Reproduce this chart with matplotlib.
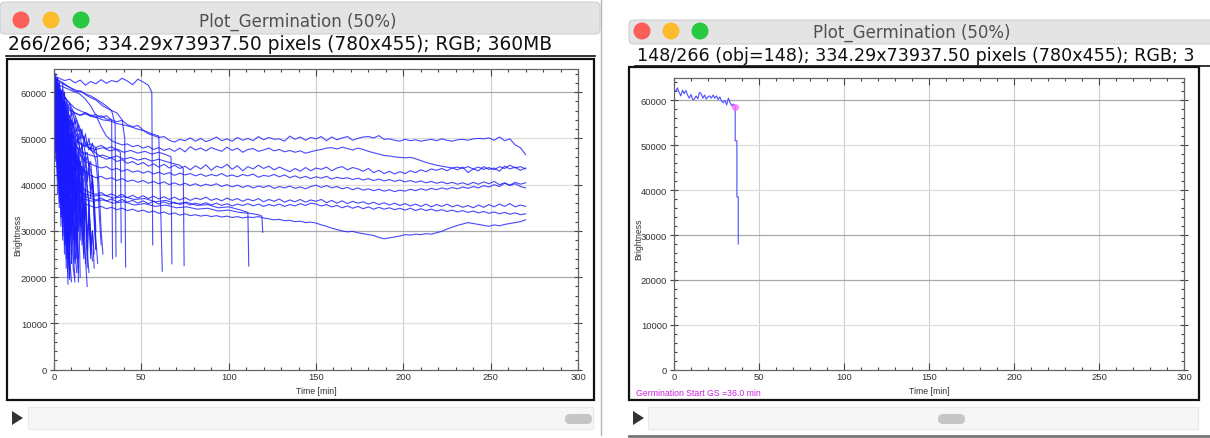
import matplotlib.pyplot as plt
from matplotlib.patches import Rectangle, FancyBboxPatch, Circle, Polygon
from matplotlib.ticker import MultipleLocator
import numpy as np

plt.rcParams['font.family'] = ['Liberation Sans', 'DejaVu Sans']

# ---------------- data (brightness in thousands) ----------------
# long traces, one sample every 3 min from 0 to 270 min
long_step = 3
trace_1 = [62.0, 60.5, 58.0, 56.5, 55.5, 55.0, 55.3, 54.8, 54.5, 54.9, 54.2, 54.0, 53.6, 53.9, 53.0, 52.5,
           52.8, 51.8, 51.0, 50.6, 50.2, 50.4, 49.6, 49.2, 49.8, 49.5, 50.1, 49.4, 50.0, 49.3, 49.7, 50.3,
           49.5, 49.9, 49.4, 50.2, 49.6, 50.0, 49.5, 50.4, 49.7, 50.2, 49.8, 49.9, 49.4, 50.5, 49.8, 50.3,
           49.6, 50.2, 49.9, 50.4, 49.5, 50.3, 49.7, 50.1, 50.4, 49.6, 50.0, 50.3, 50.4, 50.1, 50.6, 49.8,
           49.9, 49.6, 49.4, 49.8, 49.5, 49.7, 49.4, 49.6, 49.8, 49.5, 49.9, 49.6, 49.4, 49.7, 49.8, 49.6,
           49.9, 50.0, 49.9, 50.1, 49.6, 50.3, 49.5, 49.9, 48.6, 48.0, 46.5]
trace_2 = [63.0, 62.5, 61.8, 61.0, 60.2, 59.5, 58.5, 57.0, 55.0, 52.5, 50.5, 49.5, 49.0, 48.6, 48.8, 48.2,
           48.5, 47.9, 48.3, 47.6, 48.0, 47.4, 47.8, 47.2, 47.9, 47.1, 48.2, 47.5, 47.9, 47.3, 48.0, 47.6,
           47.2, 48.1, 47.4, 47.9, 47.0, 47.6, 47.8, 47.2, 47.5, 47.9, 47.3, 47.6, 47.1, 47.4, 47.0, 47.3,
           46.8, 47.1, 47.4, 47.6, 47.9, 48.0, 47.7, 48.1, 47.8, 47.5, 47.9, 47.6, 47.2, 46.9, 46.6, 46.3,
           46.2, 46.0, 45.9, 45.8, 45.9, 45.6, 45.2, 44.8, 44.5, 44.2, 44.0, 43.8, 43.6, 43.8, 43.5, 43.9,
           43.4, 43.8, 43.3, 43.7, 43.2, 43.9, 43.5, 44.2, 43.6, 43.9, 43.4]
trace_3 = [62.0, 60.8, 59.0, 57.5, 55.0, 52.0, 49.0, 47.5, 46.8, 46.0, 45.5, 45.8, 45.0, 45.4, 44.6, 45.0,
           44.3, 44.8, 44.0, 44.5, 43.8, 44.4, 43.6, 44.2, 43.5, 44.0, 43.2, 44.1, 43.4, 44.3, 43.1, 44.0,
           43.6, 44.4, 43.3, 44.1, 43.0, 43.9, 43.4, 44.2, 43.5, 44.0, 43.2, 43.8, 43.3, 42.8, 43.5, 42.9,
           43.7, 43.0, 43.6, 43.3, 43.8, 43.0, 43.6, 43.9, 43.2, 43.7, 43.4, 42.9, 43.5, 42.6, 43.1, 42.4,
           42.9, 42.3, 42.8, 42.4, 43.0, 42.6, 43.2, 42.8, 43.4, 43.1, 43.5, 43.0, 43.6, 43.2, 43.8, 42.6,
           43.4, 43.0, 43.9, 43.3, 43.6, 42.9, 44.0, 43.4, 43.8, 43.1, 43.6]
trace_4 = [61.5, 59.0, 56.0, 52.5, 49.0, 46.5, 45.0, 44.5, 44.0, 43.6, 43.9, 43.2, 43.5, 42.9, 43.3, 42.7,
           43.0, 42.5, 42.9, 42.3, 42.7, 42.2, 42.6, 42.0, 42.5, 42.1, 42.4, 41.9, 42.3, 41.8, 42.2, 41.9,
           42.4, 41.8, 42.1, 41.7, 42.2, 41.9, 42.3, 41.6, 42.0, 41.8, 42.2, 41.7, 42.1, 41.5, 41.9, 41.4,
           41.8, 41.3, 41.7, 41.4, 41.8, 41.2, 41.6, 41.3, 41.5, 41.1, 41.4, 41.0, 41.3, 40.9, 41.2, 40.8,
           41.1, 40.7, 41.0, 40.6, 40.9, 40.5, 40.8, 40.4, 40.7, 40.3, 40.6, 40.2, 40.5, 40.1, 40.4, 40.0,
           40.5, 40.1, 40.6, 40.2, 40.7, 40.0, 40.4, 39.8, 40.2, 39.6, 39.3]
trace_5 = [60.5, 57.0, 53.0, 49.5, 46.0, 44.0, 42.8, 42.0, 41.5, 41.8, 41.2, 41.5, 40.9, 41.3, 40.7, 41.0,
           40.5, 40.9, 40.3, 40.7, 40.2, 40.6, 40.0, 40.4, 39.9, 40.3, 39.8, 40.2, 39.7, 40.1, 39.8, 40.2,
           39.6, 40.0, 39.5, 39.9, 39.4, 39.8, 39.3, 39.7, 39.4, 39.8, 39.2, 39.6, 39.3, 39.7, 39.2, 39.5,
           39.1, 39.6, 39.9, 39.4, 39.8, 39.3, 39.6, 39.1, 39.4, 38.9, 39.3, 38.8, 39.1, 38.7, 39.0, 38.6,
           38.9, 38.5, 38.8, 38.6, 39.0, 38.7, 39.1, 38.8, 39.2, 38.9, 39.3, 39.0, 39.4, 39.1, 39.5, 39.2,
           39.6, 39.3, 39.8, 39.5, 40.0, 39.6, 40.3, 39.9, 40.5, 40.1, 40.4]
trace_6 = [59.0, 55.0, 50.0, 45.5, 42.0, 40.0, 38.8, 38.2, 37.9, 38.3, 37.6, 38.0, 37.4, 37.9, 37.2, 37.7,
           37.1, 37.6, 37.0, 37.5, 36.9, 37.4, 36.8, 37.3, 36.7, 37.2, 36.6, 37.1, 36.8, 37.3, 36.6, 37.0,
           36.5, 37.1, 36.6, 37.0, 36.4, 36.9, 36.5, 37.0, 36.3, 36.8, 36.4, 36.9, 36.2, 36.7, 36.3, 36.8,
           36.2, 36.7, 36.4, 36.8, 36.1, 36.6, 36.0, 36.5, 35.9, 36.4, 36.0, 36.3, 35.8, 36.2, 35.7, 36.1,
           35.6, 36.0, 35.5, 35.9, 35.4, 35.8, 35.3, 35.8, 35.2, 35.7, 35.3, 35.8, 35.2, 35.6, 35.1, 35.5,
           35.0, 35.6, 35.1, 35.7, 35.2, 35.8, 35.3, 35.9, 35.2, 35.6, 35.3]
trace_7 = [58.0, 53.5, 48.5, 44.0, 40.5, 38.5, 37.5, 37.0, 36.7, 37.1, 36.5, 36.9, 36.3, 36.8, 36.2, 36.6,
           36.0, 36.5, 35.9, 36.4, 35.8, 36.3, 35.8, 36.2, 35.7, 36.1, 35.6, 36.0, 35.7, 36.1, 35.6, 36.0,
           35.5, 35.9, 35.4, 35.8, 35.5, 35.9, 35.4, 35.8, 35.3, 35.7, 35.4, 35.8, 35.3, 35.7, 35.4, 35.9,
           35.5, 36.0, 35.8, 35.4, 35.7, 35.2, 35.5, 35.0, 35.4, 34.9, 35.3, 34.8, 35.2, 34.7, 35.1, 34.7,
           35.0, 34.6, 34.9, 34.5, 34.9, 34.4, 34.8, 34.4, 34.7, 34.3, 34.6, 34.2, 34.5, 34.1, 34.4, 34.0,
           34.3, 33.9, 34.2, 33.8, 34.1, 33.7, 34.0, 33.6, 33.9, 33.5, 33.7]
trace_8 = [57.0, 52.0, 46.0, 41.0, 38.0, 36.5, 35.8, 35.4, 35.0, 35.3, 34.8, 35.1, 34.6, 34.9, 34.4, 34.7,
           34.2, 34.5, 34.0, 34.3, 33.8, 34.1, 33.6, 33.9, 33.4, 33.7, 33.3, 33.5, 33.2, 33.4, 33.1, 33.3,
           33.0, 33.2, 32.9, 33.1, 32.8, 33.0, 32.9, 33.1, 32.8, 32.6, 32.4, 32.5, 32.2, 32.3, 32.0, 32.1,
           31.8, 31.9, 31.7, 31.3, 31.0, 30.6, 30.3, 30.0, 29.8, 29.9, 29.6, 29.4, 29.2, 29.0, 28.6, 28.3,
           28.5, 28.7, 28.9, 29.2, 29.1, 29.3, 29.2, 29.4, 29.3, 29.6, 29.9, 30.4, 30.8, 31.2, 31.5, 31.8,
           31.6, 31.4, 31.2, 31.0, 31.3, 31.1, 31.4, 31.6, 31.8, 32.0, 32.4]
long_traces = [trace_1, trace_2, trace_3, trace_4, trace_5, trace_6, trace_7, trace_8]

# short traces that germinate early, one sample per minute from 0 min
short_traces = [
    [63.5, 62.0, 58.0, 45.0, 60.0, 52.0, 38.0, 55.0, 30.0, 48.0, 25.0],
    [62.0, 55.0, 61.0, 40.0, 58.0, 35.0, 50.0, 27.0, 20.0],
    [61.0, 63.0, 50.0, 57.0, 33.0, 52.0, 46.0, 29.0, 44.0, 24.0, 19.0],
    [64.0, 59.0, 62.0, 56.0, 47.0, 59.0, 43.0, 53.0, 36.0, 49.0, 41.0, 31.0, 23.0],
    [60.0, 48.0, 56.0, 39.0, 51.0, 28.0, 45.0, 22.0],
    [63.0, 61.0, 57.0, 60.0, 54.0, 49.0, 55.0, 42.0, 50.0, 37.0, 46.0, 33.0, 40.0, 26.0, 21.0],
    [62.5, 60.0, 44.0, 58.0, 31.0, 50.0, 25.0, 42.0, 18.5],
    [61.5, 63.0, 59.0, 61.0, 53.0, 57.0, 48.0, 54.0, 44.0, 51.0, 39.0, 47.0, 35.0, 30.0, 24.0],
    [59.0, 52.0, 57.0, 46.0, 54.0, 41.0, 49.0, 34.0, 43.0, 27.0, 37.0, 22.0, 19.0],
    [64.0, 62.0, 60.5, 58.0, 59.5, 56.0, 57.0, 53.0, 55.0, 50.0, 52.0, 47.0, 49.0, 43.0, 46.0, 38.0,
     42.0, 33.0, 36.0, 26.0, 21.0],
    [60.0, 57.0, 50.0, 55.0, 45.0, 52.0, 40.0, 47.0, 29.0, 40.0, 23.0],
    [62.0, 58.0, 60.0, 54.0, 56.0, 51.0, 53.0, 48.0, 50.0, 44.0, 47.0, 40.0, 44.0, 36.0, 39.0, 31.0,
     35.0, 28.0, 24.0, 18.0],
    [63.0, 57.0, 54.0, 58.0, 49.0, 53.0, 45.0, 50.0, 38.0, 46.0, 34.0, 41.0, 27.0, 36.0, 22.0],
    [58.0, 50.0, 42.0, 52.0, 36.0, 47.0, 30.0, 42.0, 25.0, 20.5],
    [61.0, 60.0, 59.0, 57.5, 58.5, 56.0, 57.0, 54.5, 55.5, 52.0, 54.0, 50.0, 52.5, 48.0, 51.0, 46.0,
     49.0, 44.0, 47.0, 41.0, 45.0, 37.0, 42.0, 32.0, 26.0],
    [62.5, 61.0, 59.0, 60.0, 57.0, 58.0, 55.5, 56.5, 54.0, 55.0, 52.5, 53.5, 51.0, 52.0, 49.5, 50.5,
     48.0, 49.0, 46.5, 47.0, 44.0, 45.0, 40.0, 35.0, 28.0, 23.0],
    [60.0, 56.0, 59.0, 53.0, 57.0, 50.0, 54.0, 47.0, 52.0, 45.0, 49.0, 42.0, 46.0, 39.0, 43.0, 35.0,
     31.0, 25.0],
    [63.0, 62.0, 61.0, 59.0, 60.0, 58.0, 56.0, 57.0, 55.0, 53.0, 54.0, 52.0, 50.0, 51.0, 49.0, 47.5,
     48.0, 46.5, 45.0, 46.0, 44.5, 43.0, 41.0, 37.0, 30.0],
    [57.0, 45.0, 53.0, 38.0, 49.0, 32.0, 44.0, 27.0, 38.0, 22.0],
    [64.0, 63.0, 61.5, 62.0, 60.0, 60.5, 59.0, 58.5, 57.0, 57.5, 55.0, 55.5, 53.0, 54.0, 51.5, 52.0,
     50.0, 50.5, 48.5, 49.0, 47.5, 48.0, 47.0, 46.5, 45.0, 41.0, 33.0, 27.0],
    [55.0, 48.0, 58.0, 43.0, 51.0, 36.0, 47.0, 31.0, 24.0],
    [62.0, 59.0, 61.0, 56.0, 58.0, 53.0, 55.0, 50.0, 52.5, 47.0, 50.0, 45.0, 48.0, 43.0, 46.0, 42.0,
     44.0, 40.0, 43.0, 39.0, 36.0, 29.0, 23.5],
    [59.0, 54.0, 49.0, 53.0, 44.0, 48.0, 39.0, 43.0, 35.0, 38.0, 30.0, 34.0, 26.0, 21.0],
    [61.0, 58.0, 55.0, 57.0, 52.0, 54.0, 49.0, 51.0, 47.0, 49.5, 46.0, 48.0, 44.5, 46.5, 43.0, 45.0,
     42.0, 44.0, 41.5, 40.0, 35.0, 28.0],
    [63.0, 60.0, 62.0, 58.0, 60.5, 56.0, 59.0, 55.0, 57.0, 53.0, 56.0, 52.0, 54.5, 51.5, 53.0, 50.0,
     52.0, 49.0, 51.0, 48.5, 50.0, 47.5, 49.0, 47.0, 48.0, 45.0, 38.0, 30.0, 25.0],
    [63.0, 47.0, 61.0, 35.0, 57.0, 29.0, 52.0, 24.0, 46.0, 20.0],
    [62.0, 60.0, 41.0, 59.0, 48.0, 62.0, 37.0, 55.0, 26.0, 19.5],
    [64.0, 53.0, 63.0, 44.0, 60.0, 50.0, 34.0, 58.0, 28.0, 51.0, 23.0],
    [59.5, 62.0, 38.0, 56.0, 42.0, 53.0, 27.0, 47.0, 32.0, 21.5],
    [63.5, 58.0, 61.0, 49.0, 56.0, 43.0, 60.0, 38.0, 52.0, 30.0, 45.0, 25.0, 20.0],
    [61.0, 64.0, 55.0, 62.0, 47.0, 58.0, 40.0, 54.0, 35.0, 50.0, 29.0, 44.0, 23.5, 38.0, 19.0],
    [62.5, 50.0, 58.0, 36.0, 55.0, 46.0, 60.0, 31.0, 48.0, 22.5],
    [60.5, 56.0, 63.0, 52.0, 59.0, 45.0, 57.0, 39.0, 53.0, 33.0, 49.0, 28.0, 43.0, 24.0, 37.0, 20.0],
    [63.0, 61.0, 57.0, 62.0, 50.0, 58.0, 44.0, 56.0, 41.0, 54.0, 38.0, 51.0, 34.0, 48.0, 30.0, 45.0,
     27.0, 40.0, 23.0],
    [58.0, 61.5, 46.0, 57.0, 33.0, 50.0, 40.0, 55.0, 26.0, 21.0],
    [64.0, 62.0, 63.0, 55.0, 60.0, 51.0, 58.0, 47.0, 56.0, 42.0, 53.0, 36.0, 50.0, 32.0, 46.0, 28.0,
     43.0, 24.0, 39.0, 22.0, 34.0, 25.0],
    [62.0, 57.0, 60.0, 53.0, 58.5, 49.0, 56.0, 45.0, 54.0, 41.0, 52.0, 38.0, 49.0, 35.0, 47.0, 31.0,
     44.0, 28.0, 41.0, 26.0, 37.0, 24.0, 30.0, 22.0],
    [61.0, 55.0, 58.0, 52.0, 56.0, 50.5, 54.0, 49.0, 52.5, 47.5, 51.0, 46.0, 49.5, 44.5, 48.0, 43.0,
     47.0, 42.0, 45.0, 40.5, 43.5, 39.0, 41.0, 34.0, 26.0],
    [57.5, 54.0, 56.0, 51.0, 53.5, 48.0, 51.0, 45.5, 49.0, 43.0, 46.5, 40.0, 44.0, 37.5, 41.0, 35.0,
     38.0, 32.5, 35.5, 29.0, 33.0, 27.0, 30.0, 25.0],
]

# medium traces that germinate later (time in min, brightness in thousands)
mid_times = [
    [0, 3, 6, 9, 12, 15, 18, 21, 24, 27, 30, 33, 36, 39, 42, 45, 48, 51, 54, 56, 56.5],
    [0, 3, 6, 9, 12, 15, 18, 21, 24, 27, 30, 33, 35, 35.5],
    [0, 4, 8, 12, 16, 20, 24, 28, 32, 36, 39, 40.5, 41],
    [0, 4, 8, 12, 16, 20, 24, 28, 32, 36, 40, 44, 48, 52, 56, 60, 62],
    [0, 4, 8, 12, 16, 20, 24, 28, 32, 36, 40, 44, 48, 52, 56, 60, 64, 67, 67.5],
    [0, 4, 8, 12, 16, 20, 24, 28, 32, 36, 40, 44, 48, 52, 56, 60, 64, 68, 72, 74, 74.5],
    [0, 4, 8, 12, 16, 22, 28, 34, 40, 46, 52, 58, 64, 70, 76, 82, 88, 94, 100, 106, 111, 111.5],
    [0, 4, 8, 12, 16, 22, 28, 34, 40, 46, 52, 58, 64, 70, 76, 82, 88, 94, 100, 106, 112, 117, 119, 119.5],
    [0, 3, 6, 9, 12, 15, 18, 21, 24, 27, 30, 33, 33.5],
    [0, 3, 6, 9, 12, 15, 18, 21, 24, 27, 30, 33, 36, 38, 38.5],
]
mid_values = [
    [63.5, 63.0, 62.5, 62.8, 62.0, 62.6, 61.5, 62.3, 61.8, 62.7, 61.9, 62.5, 62.2, 63.0, 62.4, 61.6,
     62.8, 62.2, 61.5, 60.0, 27.0],
    [62.0, 61.5, 61.0, 60.5, 60.0, 60.3, 59.6, 59.2, 58.5, 57.8, 57.0, 56.0, 53.0, 24.5],
    [63.0, 62.0, 61.2, 60.5, 60.0, 59.0, 58.3, 57.0, 56.2, 55.5, 54.0, 50.0, 22.2],
    [62.5, 60.0, 58.0, 56.5, 55.8, 55.2, 54.6, 54.0, 53.8, 53.2, 52.9, 52.5, 52.0, 51.6, 51.0, 50.5, 21.3],
    [61.0, 57.0, 53.0, 50.0, 48.5, 48.0, 47.6, 48.0, 47.3, 47.7, 47.0, 47.4, 46.8, 47.2, 46.6, 47.0,
     46.5, 46.0, 22.9],
    [60.0, 55.0, 51.0, 48.5, 47.0, 46.5, 46.0, 46.4, 45.8, 46.2, 45.5, 45.9, 45.3, 45.7, 45.1, 45.5,
     45.0, 44.6, 44.2, 43.5, 22.5],
    [58.0, 50.0, 44.0, 40.0, 38.2, 37.5, 37.8, 37.1, 37.4, 36.8, 37.0, 36.3, 36.6, 35.9, 36.2, 35.5,
     35.7, 35.0, 35.2, 34.6, 34.0, 22.4],
    [57.0, 48.0, 42.0, 38.5, 37.0, 36.4, 36.7, 36.0, 36.3, 35.6, 35.9, 35.3, 35.6, 35.0, 35.2, 34.7,
     34.9, 34.3, 34.5, 34.0, 33.8, 33.5, 33.2, 29.7],
    [62.0, 59.0, 57.5, 56.0, 55.5, 55.0, 55.6, 54.8, 55.2, 54.5, 54.9, 54.0, 24.0],
    [61.0, 57.0, 53.0, 51.0, 49.5, 49.0, 48.4, 48.8, 48.0, 48.5, 47.8, 48.2, 47.5, 47.0, 27.5],
]

# selected object 148, one sample per minute from 0 to 36 min, then the drop
sel_values = [62.5, 62.0, 62.8, 61.8, 61.0, 62.3, 61.5, 62.2, 61.2, 60.5, 61.3, 60.2, 60.3, 61.0,
              60.4, 61.8, 61.5, 60.5, 61.2, 60.3, 60.8, 61.0, 60.5, 61.2, 60.5, 61.0, 60.2, 60.8,
              59.8, 59.5, 60.0, 59.0, 60.5, 59.5, 58.8, 59.2, 58.5]
drop_times = [36.0, 36.0, 37.0, 37.0, 37.8, 37.8]
drop_values = [58.5, 51.0, 51.0, 38.5, 38.5, 28.0]
gs_time = 36.0

x_ticks = [0, 50, 100, 150, 200, 250, 300]
y_ticks = [0, 10000, 20000, 30000, 40000, 50000, 60000]

# ---------------- figure ----------------
W, H = 1210, 439
fig = plt.figure(figsize=(W / 100, H / 100), dpi=100)
bg = fig.add_axes([0, 0, 1, 1])
bg.set_xlim(0, W)
bg.set_ylim(H, 0)
bg.axis('off')

LINE = dict(color='#1a1aff', lw=0.8, alpha=0.8)


def window(x0, x1, ytop, ybar, lights_y, lights_x, title, title_x, info, info_y, info_size, line_y,
           frame, slider, thumb, play_x):
    # title bar
    bg.add_patch(FancyBboxPatch((x0, ytop), x1 - x0, ybar - ytop, boxstyle='round,pad=0,rounding_size=5',
                                fc='#e4e4e4', ec='#cfcfcf', lw=0.8))
    for cx, col in zip(lights_x, ['#fc5f57', '#fdbc2e', '#28c840']):
        bg.add_patch(Circle((cx, lights_y), 8.5, fc=col, ec='none'))
    bg.text(title_x, lights_y + 1, title, ha='center', va='center', fontsize=12, color='#505050',
            family='DejaVu Sans')
    bg.text(x0 + 8, info_y, info, ha='left', va='center', fontsize=info_size, color='#111111',
            family='DejaVu Sans')
    bg.plot([x0 + 6, x1 - 5], [line_y, line_y], color='#111111', lw=1.2)
    fx0, fy0, fx1, fy1 = frame
    bg.add_patch(Rectangle((fx0, fy0), fx1 - fx0, fy1 - fy0, fc='white', ec='#111111', lw=1.6))
    sx0, sy0, sx1, sy1 = slider
    bg.add_patch(Rectangle((sx0, sy0), sx1 - sx0, sy1 - sy0, fc='#f6f6f6', ec='#e8e8e8', lw=0.8))
    tx0, tx1 = thumb
    bg.add_patch(FancyBboxPatch((tx0, 415), tx1 - tx0, 10, boxstyle='round,pad=0,rounding_size=5',
                                fc='#c6c6c6', ec='none'))
    bg.add_patch(Polygon([(play_x, 412), (play_x, 426), (play_x + 11, 419)], closed=True,
                         fc='#333333', ec='none'))


window(0, 600, 3, 35, 21, [21, 51, 81], 'Plot_Germination (50%)', 298,
       '266/266; 334.29x73937.50 pixels (780x455); RGB; 360MB', 45, 13.4, 57,
       (7, 60, 594, 401), (28, 408, 593, 430), (565, 592), 12)
window(629, 1215, 21, 45, 32, [642, 671, 700], 'Plot_Germination (50%)', 912,
       '148/266 (obj=148); 334.29x73937.50 pixels (780x455); RGB; 3', 56, 12.6, 67,
       (629, 68, 1199, 401), (648, 408, 1198, 430), (938, 965), 633)
bg.plot([601, 601], [0, 436], color='#b5b5b5', lw=1)
bg.plot([629, 1210], [437, 437], color='#777777', lw=2)


def style(ax):
    ax.set_xlim(0, 300)
    ax.set_ylim(0, 65000)
    ax.set_xticks(x_ticks)
    ax.set_yticks(y_ticks)
    ax.xaxis.set_minor_locator(MultipleLocator(10))
    ax.yaxis.set_minor_locator(MultipleLocator(2000))
    ax.tick_params(which='both', direction='in', top=True, right=True, color='#444444',
                   labelsize=6.8, labelcolor='#333333', pad=2, width=0.8)
    ax.tick_params(which='major', length=5)
    ax.tick_params(which='minor', length=2.5)
    ax.tick_params(axis='y', which='major', direction='inout', length=6)
    for s in ax.spines.values():
        s.set_color('#666666')
        s.set_linewidth(0.9)
    for x in x_ticks[1:-1]:
        ax.axvline(x, color='#cdcdcd', lw=0.8, zorder=0)
    for y in y_ticks[1:]:
        dark = y in (20000, 30000, 60000)
        ax.axhline(y, color='#a9a9a9' if dark else '#dedede', lw=0.9, zorder=0)
    ax.set_xlabel('Time [min]', fontsize=6.3, color='#333333')
    ax.xaxis.set_label_coords(0.5, -0.055)
    ax.set_ylabel('Brightness', fontsize=6.3, color='#333333')
    ax.yaxis.set_label_coords(-0.06, 0.45)


# left plot: all objects
ax1 = fig.add_axes([54 / W, (H - 370.7) / H, 524 / W, 300.7 / H])
style(ax1)
for tr in long_traces:
    t = np.arange(len(tr)) * long_step
    ax1.plot(t, np.array(tr) * 1000, **LINE)
for tm, vals in zip(mid_times, mid_values):
    ax1.plot(tm, np.array(vals) * 1000, **LINE)
for tr in short_traces:
    ax1.plot(np.arange(len(tr)), np.array(tr) * 1000, **LINE)

# right plot: selected object 148
ax2 = fig.add_axes([674 / W, (H - 370.7) / H, 510 / W, 291.7 / H])
style(ax2)
sel_t = list(np.arange(len(sel_values))) + drop_times
sel_v = sel_values + drop_values
ax2.plot(sel_t, np.array(sel_v) * 1000, color='#4d4dff', lw=0.8)
gs_val = sel_values[int(gs_time)] * 1000
ax2.plot([gs_time], [gs_val], 'o', ms=5, color='#ff66ff', alpha=0.8, mec='none')

bg.text(636, 394, 'Germination Start GS =%.1f min' % gs_time, fontsize=6.3, color='#cc22dd',
        ha='left', va='center')

fig.savefig('out.png', dpi=100)
